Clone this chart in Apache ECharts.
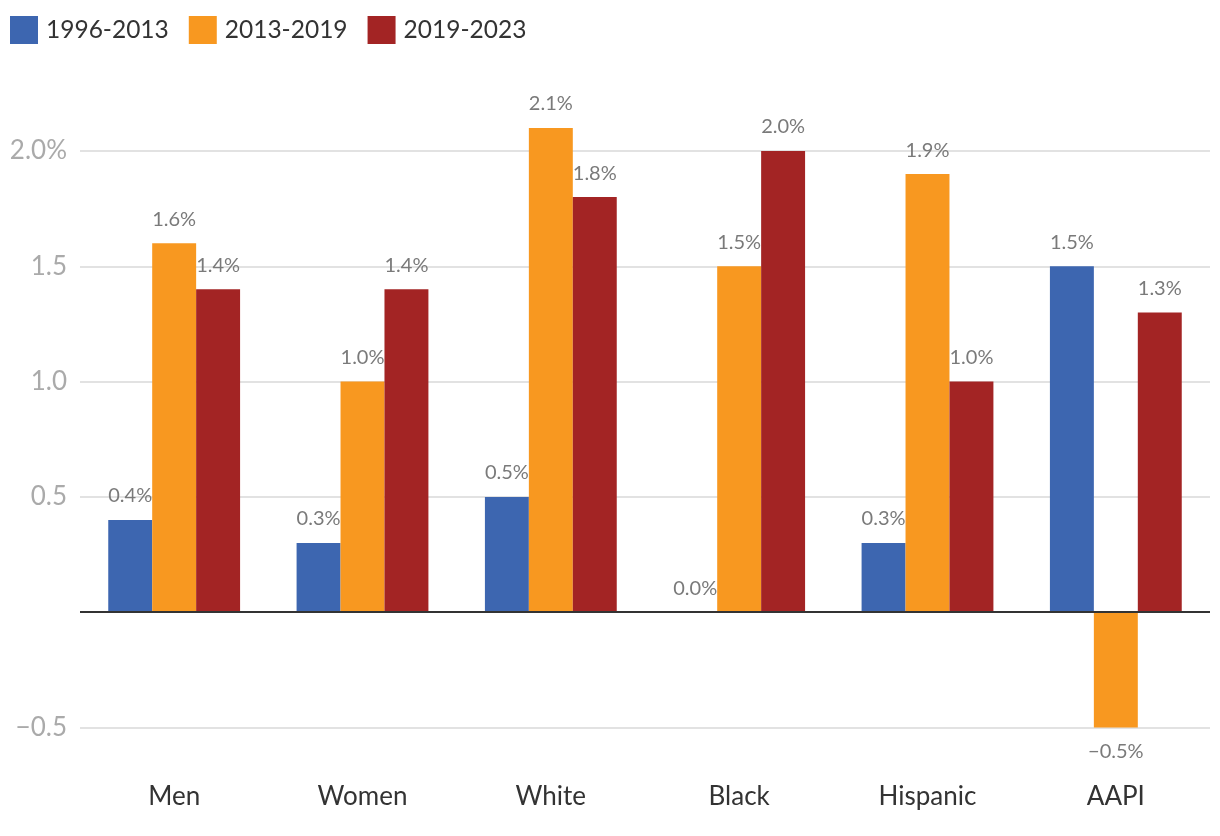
<!DOCTYPE html>
<html><head><meta charset="utf-8">
<script src="https://cdn.jsdelivr.net/npm/echarts@6/dist/echarts.min.js"></script>
<style>html,body{margin:0;padding:0;background:#fff}#c{width:1220px;height:836px}</style>
</head><body><div id="c"></div>
<script>
const categories = ['Men', 'Women', 'White', 'Black', 'Hispanic', 'AAPI'];
const seriesNames = ['1996-2013', '2013-2019', '2019-2023'];
const s1996_2013 = [0.4, 0.3, 0.5, 0.0, 0.3, 1.5];
const s2013_2019 = [1.6, 1.0, 2.1, 1.5, 1.9, -0.5];
const s2019_2023 = [1.4, 1.4, 1.8, 2.0, 1.0, 1.3];
const colors = ['#3d66b0', '#f89820', '#a32424'];
const FONT = 'Lato';

function fmtPct(v) { return (v < 0 ? '\u2212' : '') + Math.abs(v).toFixed(1) + '%'; }

function makeSeries(name, vals, color, idx) {
  const s = {
    name: name, type: 'bar', barGap: '0%', barCategoryGap: '30%', clip: false,
    itemStyle: { color: color },
    data: vals.map(v => ({
      value: v,
      label: { position: v < 0 ? 'bottom' : 'top' }
    })),
    label: {
      show: true, distance: 14, color: '#7a7a7a', fontSize: 20, fontFamily: FONT,
      formatter: p => fmtPct(p.value)
    },
    animation: false
  };
  if (idx === 0) {
    s.markLine = {
      silent: true, symbol: 'none', label: { show: false },
      lineStyle: { color: '#333', width: 2, type: 'solid' },
      data: [{ yAxis: 0 }]
    };
  }
  return s;
}

const chart = echarts.init(document.getElementById('c'));
chart.setOption({
  animation: false,
  color: colors,
  legend: {
    left: 10, top: 16, padding: 0, itemWidth: 28, itemHeight: 28, itemGap: 20,
    icon: 'rect',
    textStyle: { fontSize: 24.5, lineHeight: 28, color: '#333', fontFamily: FONT, padding: [0, 0, 0, 3] },
    data: seriesNames
  },
  grid: { left: 80, right: 10, top: 151, bottom: 108.5 },
  xAxis: {
    type: 'category', data: categories,
    axisLine: { show: false }, axisTick: { show: false },
    axisLabel: { margin: 56, fontSize: 26, color: '#333', fontFamily: FONT }
  },
  yAxis: {
    type: 'value', min: -0.5, max: 2.0, interval: 0.5,
    axisLine: { show: false }, axisTick: { show: false },
    splitLine: { lineStyle: { color: '#e2e2e2', width: 2 } },
    axisLabel: {
      margin: 13, fontSize: 26, color: '#aaa', fontFamily: FONT,
      formatter: v => {
        if (Math.abs(v) < 1e-9) return '';
        if (Math.abs(v - 2) < 1e-9) return '2.0%';
        return (v < 0 ? '\u2212' : '') + Math.abs(v).toFixed(1);
      }
    }
  },
  series: [
    makeSeries(seriesNames[0], s1996_2013, colors[0], 0),
    makeSeries(seriesNames[1], s2013_2019, colors[1], 1),
    makeSeries(seriesNames[2], s2019_2023, colors[2], 2)
  ]
});
</script></body></html>
